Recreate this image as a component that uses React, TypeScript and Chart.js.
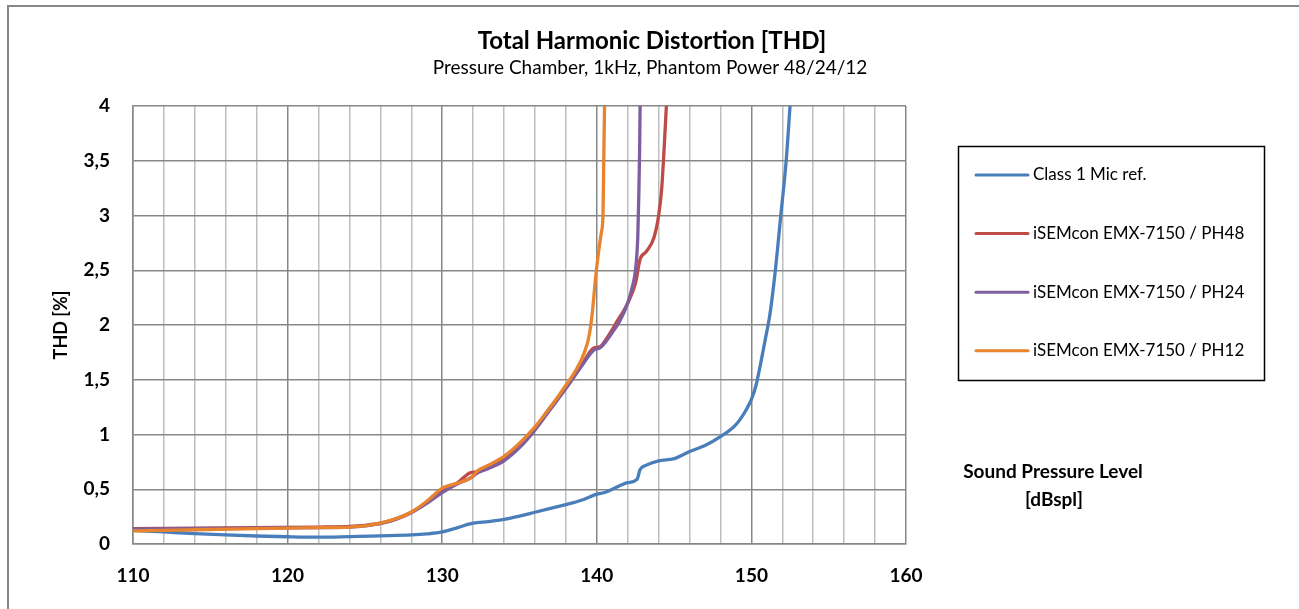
import React, { useEffect, useRef } from 'react';
import { Chart, registerables } from 'chart.js';

Chart.register(...registerables);

const TITLE = 'Total Harmonic Distortion [THD]';
const SUBTITLE = 'Pressure Chamber, 1kHz, Phantom Power 48/24/12';
const Y_TITLE = 'THD [%]';
const X_TITLE_1 = 'Sound Pressure Level';
const X_TITLE_2 = '[dBspl]';

const seriesNames = [
  'Class 1 Mic ref.',
  'iSEMcon EMX-7150 / PH48',
  'iSEMcon EMX-7150 / PH24',
  'iSEMcon EMX-7150 / PH12',
];
const seriesColors = ['#4A7EBB', '#BE4B48', '#7D5FA0', '#E8832E'];

const refX = [110, 112, 114, 116, 118, 120, 122, 124, 126, 128, 129, 130, 131, 132, 133, 134, 135, 136, 137, 138, 139, 140, 140.5, 141, 142, 142.6, 142.8, 143.2, 144, 145, 146, 147, 148, 149, 149.6, 150, 150.3, 150.6, 150.9, 151.2, 151.55, 151.9, 152.25, 152.5];
const refY = [0.125, 0.11, 0.095, 0.083, 0.073, 0.066, 0.062, 0.068, 0.075, 0.083, 0.092, 0.11, 0.15, 0.19, 0.205, 0.225, 0.255, 0.29, 0.325, 0.36, 0.4, 0.455, 0.47, 0.5, 0.56, 0.59, 0.68, 0.72, 0.76, 0.78, 0.845, 0.9, 0.98, 1.09, 1.21, 1.32, 1.45, 1.65, 1.87, 2.1, 2.5, 3.0, 3.5, 4.0];

const ph48X = [110, 114, 118, 122, 124, 125, 126, 127, 128, 129, 130, 131, 131.8, 132.3, 133, 134, 135, 136, 137, 138, 139, 139.8, 140.2, 140.6, 141.3, 142, 142.5, 142.8, 143.2, 143.7, 144, 144.2, 144.35, 144.5];
const ph48Y = [0.14, 0.145, 0.15, 0.155, 0.16, 0.17, 0.19, 0.23, 0.29, 0.38, 0.49, 0.56, 0.65, 0.66, 0.71, 0.78, 0.9, 1.06, 1.25, 1.43, 1.63, 1.79, 1.8, 1.87, 2.03, 2.2, 2.38, 2.6, 2.67, 2.8, 3.0, 3.25, 3.6, 4.0];

const ph24X = [110, 114, 118, 122, 124, 125, 126, 127, 128, 129, 130, 131, 131.8, 132.3, 133, 134, 135, 136, 137, 138, 139, 139.8, 140.2, 140.6, 141, 141.5, 142, 142.3, 142.5, 142.65, 142.72, 142.77, 142.8];
const ph24Y = [0.135, 0.14, 0.145, 0.15, 0.155, 0.165, 0.185, 0.225, 0.285, 0.37, 0.47, 0.55, 0.6, 0.65, 0.69, 0.76, 0.88, 1.04, 1.23, 1.42, 1.62, 1.77, 1.79, 1.85, 1.93, 2.04, 2.2, 2.35, 2.5, 2.8, 3.2, 3.6, 4.0];

const ph12X = [110, 114, 118, 122, 124, 125, 126, 127, 128, 129, 130, 130.6, 131.3, 131.9, 132.3, 133, 134, 135, 136, 137, 138, 138.7, 139.2, 139.5, 139.7, 139.9, 140.1, 140.3, 140.4, 140.45, 140.5];
const ph12Y = [0.12, 0.13, 0.14, 0.15, 0.155, 0.165, 0.19, 0.23, 0.29, 0.39, 0.51, 0.54, 0.57, 0.61, 0.67, 0.72, 0.8, 0.92, 1.07, 1.25, 1.45, 1.6, 1.75, 1.9, 2.1, 2.4, 2.65, 2.85, 3.0, 3.5, 4.0];

const xMin = 110;
const xMax = 160;
const xStep = 2;
const xLabelEvery = 10;
const yMin = 0;
const yMax = 4;
const yStep = 0.5;

const FONT = 'Lato, "Noto Sans", sans-serif';

function toPoints(xs: number[], ys: number[]) {
  return xs.map((x, i) => ({ x, y: ys[i] }));
}

const decoPlugin = {
  id: 'deco',
  beforeDraw(chart: any) {
    const ctx = chart.ctx as CanvasRenderingContext2D;
    ctx.save();
    ctx.fillStyle = '#ffffff';
    ctx.fillRect(0, 0, chart.width, chart.height);
    ctx.strokeStyle = '#878787';
    ctx.lineWidth = 2;
    ctx.beginPath();
    ctx.moveTo(8, chart.height + 2);
    ctx.lineTo(8, 6);
    ctx.lineTo(chart.width + 2, 6);
    ctx.stroke();
    ctx.restore();
  },
  afterDraw(chart: any) {
    const ctx = chart.ctx as CanvasRenderingContext2D;
    const area = chart.chartArea;
    ctx.save();
    ctx.fillStyle = '#000000';
    ctx.textAlign = 'center';
    ctx.textBaseline = 'middle';
    ctx.font = `bold 24px ${FONT}`;
    ctx.fillText(TITLE, 652, 41);
    ctx.font = `19px ${FONT}`;
    ctx.fillText(SUBTITLE, 650, 68);

    ctx.save();
    ctx.translate(61, (area.top + area.bottom) / 2);
    ctx.rotate(-Math.PI / 2);
    ctx.font = `bold 18px ${FONT}`;
    ctx.fillText(Y_TITLE, 0, 0);
    ctx.restore();

    ctx.font = `bold 19px ${FONT}`;
    ctx.fillText(X_TITLE_1, 1053, 472);
    ctx.fillText(X_TITLE_2, 1054, 500);

    // legend
    const lx = 958, ly = 146, lw = 306, lh = 234;
    ctx.strokeStyle = '#000000';
    ctx.lineWidth = 1.5;
    ctx.strokeRect(lx + 0.5, ly + 0.5, lw, lh);
    ctx.textAlign = 'left';
    ctx.font = `17px ${FONT}`;
    seriesNames.forEach((name, i) => {
      const y = 175 + i * 58.6;
      ctx.strokeStyle = seriesColors[i];
      ctx.lineWidth = 3;
      ctx.lineCap = 'round';
      ctx.beginPath();
      ctx.moveTo(976, y);
      ctx.lineTo(1028, y);
      ctx.stroke();
      ctx.fillStyle = '#000000';
      ctx.fillText(name, 1033, y);
    });
    ctx.restore();
  },
};

export default function App() {
  const ref = useRef<HTMLCanvasElement | null>(null);
  useEffect(() => {
    if (!ref.current) return;
    const all = [
      toPoints(refX, refY),
      toPoints(ph48X, ph48Y),
      toPoints(ph24X, ph24Y),
      toPoints(ph12X, ph12Y),
    ];
    const orders = [3, 2, 1, 0];
    const chart = new Chart(ref.current, {
      type: 'scatter',
      data: {
        datasets: all.map((pts, i) => ({
          label: seriesNames[i],
          data: pts,
          showLine: true,
          borderColor: seriesColors[i],
          backgroundColor: seriesColors[i],
          borderWidth: 3.3,
          pointRadius: 0,
          pointHoverRadius: 0,
          tension: 0.4,
          cubicInterpolationMode: 'monotone',
          borderCapStyle: 'round',
          borderJoinStyle: 'round',
          order: orders[i],
        })),
      },
      plugins: [decoPlugin],
      options: {
        responsive: false,
        animation: false,
        layout: { padding: { left: 0, top: 106, right: 393, bottom: 0 } },
        plugins: {
          legend: { display: false },
          title: { display: false },
          tooltip: { enabled: false },
        },
        scales: {
          x: {
            type: 'linear',
            min: xMin,
            max: xMax,
            afterFit: (s: any) => { s.height = 65; },
            afterBuildTicks: (s: any) => {
              const t = [];
              for (let v = xMin; v <= xMax + 1e-9; v += xStep) t.push({ value: v });
              s.ticks = t;
            },
            ticks: {
              stepSize: xStep,
              autoSkip: false,
              maxRotation: 0,
              padding: 20,
              color: '#000000',
              font: { family: FONT, size: 19, weight: 'bold' },
              callback: (v: any) => (Math.round(v) % xLabelEvery === 0 ? String(v) : ''),
            },
            grid: {
              drawTicks: false,
              lineWidth: 1.5,
              color: (c: any) => (c.tick && Math.round(c.tick.value) % xLabelEvery === 0 ? '#878787' : '#BEBEBE'),
            },
            border: { display: true, color: '#878787', width: 1.5 },
          },
          y: {
            type: 'linear',
            min: yMin,
            max: yMax,
            afterFit: (s: any) => { s.width = 133; },
            ticks: {
              stepSize: yStep,
              padding: 23,
              color: '#000000',
              font: { family: FONT, size: 19, weight: 'bold' },
              callback: (v: any) => String(v).replace('.', ','),
            },
            grid: { drawTicks: false, lineWidth: 1.5, color: '#878787' },
            border: { display: true, color: '#878787', width: 1.5 },
          },
        },
      },
    } as any);
    return () => chart.destroy();
  }, []);
  return (
    <canvas
      ref={ref}
      width={1299}
      height={609}
      style={{ position: 'absolute', left: 0, top: 0, display: 'block' }}
    />
  );
}
